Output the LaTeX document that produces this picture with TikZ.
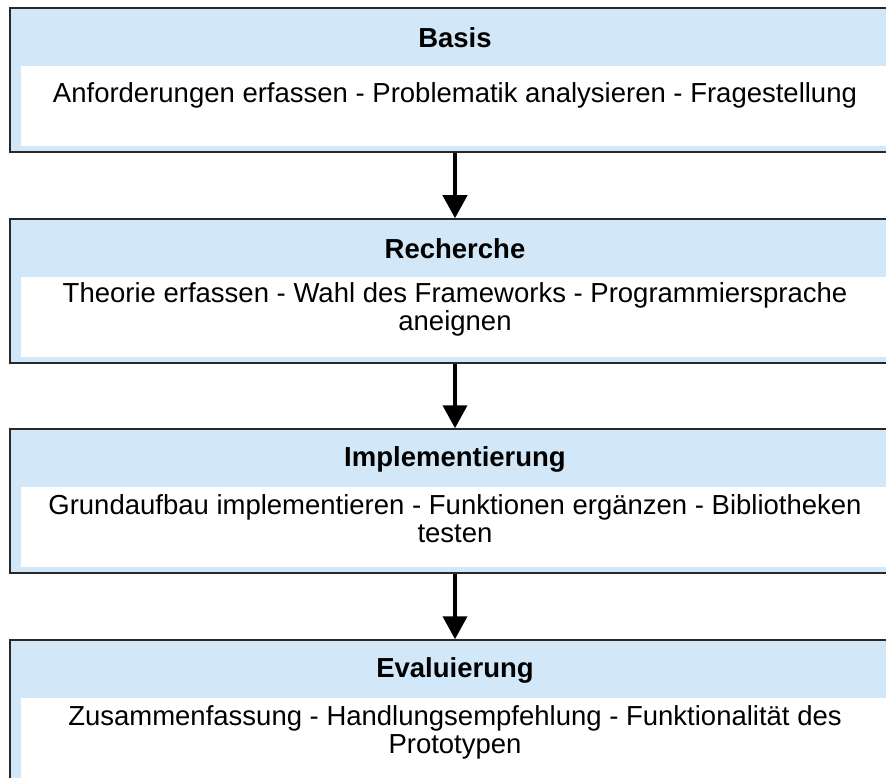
\documentclass[tikz,border=0pt]{standalone}
\usepackage{fontspec}
\setmainfont{Liberation Sans}
\usetikzlibrary{arrows.meta}
\definecolor{stageblue}{RGB}{210,232,248}
\definecolor{stageline}{RGB}{40,40,40}

\begin{document}
\begin{tikzpicture}[x=1pt,y=-1pt,
  stage/.style={draw=stageline,line width=1.5pt,fill=stageblue,minimum width=890pt,minimum height=144pt,inner sep=0pt},
  inner box/.style={fill=white,minimum width=868pt,minimum height=80pt,inner sep=0pt},
  title/.style={font=\fontsize{27.5}{28}\selectfont\bfseries},
  body/.style={font=\fontsize{27.5}{28}\selectfont,align=center},
  flow/.style={line width=4pt,-{Triangle[width=24pt,length=23pt]}}]

  \useasboundingbox (0,0) rectangle (886,778);

  % stages
  \node[stage] (basis) at (455,80) {};
  \node[inner box] (basisin) at (455,106) {};
  \node[title] (basistitle) at (455,38) {Basis};
  \node[body] (basistext) at (455,95) {Anforderungen erfassen - Problematik analysieren - Fragestellung};

  \node[stage] (recherche) at (455,291) {};
  \node[inner box] (rechercheIn) at (455,317) {};
  \node[title] (recherchetitle) at (455,249) {Recherche};
  \node[body] (recherchetext) at (455,309) {Theorie erfassen - Wahl des Frameworks - Programmiersprache\\aneignen};

  \node[stage] (impl) at (455,501) {};
  \node[inner box] (implin) at (455,527) {};
  \node[title] (impltitle) at (455,459) {Implementierung};
  \node[body] (impltext) at (455,519) {Grundaufbau implementieren - Funktionen ergänzen - Bibliotheken\\testen};

  \node[stage] (eval) at (455,712) {};
  \node[inner box] (evalin) at (455,738) {};
  \node[title] (evaltitle) at (455,670) {Evaluierung};
  \node[body] (evaltext) at (455,732) {Zusammenfassung - Handlungsempfehlung - Funktionalität des\\Prototypen};

  % arrows
  \draw[flow] (basis) -- (recherche);
  \draw[flow] (recherche) -- (impl);
  \draw[flow] (impl) -- (eval);
\end{tikzpicture}
\end{document}
